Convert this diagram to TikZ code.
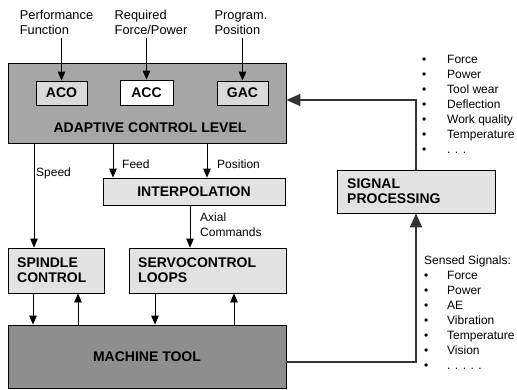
\documentclass[tikz,border=0pt]{standalone}
\usepackage{fontspec}
\setmainfont{Liberation Sans}
\usetikzlibrary{arrows.meta,calc}
\definecolor{aclgray}{HTML}{A6A6A6}
\definecolor{mtgray}{HTML}{8E8E8E}
\definecolor{lightgray}{HTML}{E2E2E2}
\definecolor{smallgray}{HTML}{DADADA}
\begin{document}
\begin{tikzpicture}[x=1pt,y=-1pt,
  box/.style={draw=black,line width=0.8pt,inner sep=0pt},
  lbox/.style={box,fill=lightgray,font=\fontsize{14}{15}\selectfont\bfseries,align=left},
  sbox/.style={box,fill=smallgray,minimum width=51pt,minimum height=24pt,font=\fontsize{14}{15}\selectfont\bfseries},
  lbl/.style={inner sep=0pt,font=\fontsize{12}{15}\selectfont,align=left},
  toplbl/.style={inner sep=0pt,font=\fontsize{12.8}{15}\selectfont,align=left},
  arr/.style={line width=0.8pt,-{Triangle[length=9pt,width=7.5pt]}},
  fb/.style={line width=2pt,draw=black!80,-{Triangle[length=14pt,width=12pt]}}
]
\useasboundingbox (0,0) rectangle (517,389);
% main boxes
\node[box,fill=aclgray,minimum width=278pt,minimum height=80pt] (acl) at (147,103) {};
\node[inner sep=0pt,font=\fontsize{14}{15}\selectfont\bfseries] (acltext) at (150,128) {ADAPTIVE CONTROL LEVEL};
\node[sbox] (aco) at (61.5,93) {ACO};
\node[sbox,fill=white,minimum width=53pt,minimum height=25pt] (acc) at (146.5,92.5) {ACC};
\node[sbox] (gac) at (242.5,93) {GAC};
\node[lbox,minimum width=182pt,minimum height=27pt] (interp) at (194,191.5) {};
\node[inner sep=0pt,font=\fontsize{14}{15}\selectfont\bfseries] (interptext) at (194,191.5) {INTERPOLATION};
\node[lbox,minimum width=96pt,minimum height=45pt] (spin) at (56,270.5) {};
\node[inner sep=0pt,anchor=west,font=\fontsize{14}{15}\selectfont\bfseries,align=left] (spintext) at (17,270.5) {SPINDLE\\CONTROL};
\node[lbox,minimum width=157pt,minimum height=45pt] (servo) at (207.5,270.5) {};
\node[inner sep=0pt,anchor=west,font=\fontsize{14}{15}\selectfont\bfseries,align=left] (servotext) at (138,270.5) {SERVOCONTROL\\LOOPS};
\node[box,fill=mtgray,minimum width=278pt,minimum height=63pt] (mt) at (147,356.5) {};
\node[inner sep=0pt,font=\fontsize{14}{15}\selectfont\bfseries] (mttext) at (147,357) {MACHINE TOOL};
\node[lbox,minimum width=158pt,minimum height=43pt] (sig) at (416,191.5) {};
\node[inner sep=0pt,anchor=west,font=\fontsize{14}{15}\selectfont\bfseries,align=left] (sigtext) at (347,191.5) {SIGNAL\\PROCESSING};
% top labels
\node[toplbl] (perf) at (56.5,22.5) {Performance\\Function};
\node[toplbl] (req) at (151,22.5) {Required\\Force/Power};
\node[toplbl] (prog) at (241,22.5) {Program.\\Position};
\draw[arr] (aco.north |- perf.south) ++(0,3) -- (aco.north);
\draw[arr] (acc.north |- req.south) ++(0,3) -- (acc.north);
\draw[arr] (gac.north |- prog.south) ++(0,3) -- (gac.north);
% coordinates for vertical connectors
\coordinate (speedx) at (34,0);
\coordinate (feedx) at (113,0);
\coordinate (posx) at (207,0);
\coordinate (axx) at (190,0);
\coordinate (sdown) at (33,0);
\coordinate (sup) at (78,0);
\coordinate (vdown) at (155,0);
\coordinate (vup) at (234,0);
\coordinate (fbin) at (0,100);
\draw[arr] (acl.south -| speedx) -- (spin.north -| speedx);
\draw[arr] (acl.south -| feedx) -- (interp.north -| feedx);
\draw[arr] (acl.south -| posx) -- (interp.north -| posx);
\draw[arr] (interp.south -| axx) -- (servo.north -| axx);
\draw[arr] (spin.south -| sdown) -- (mt.north -| sdown);
\draw[arr] (mt.north -| sup) -- (spin.south -| sup);
\draw[arr] (servo.south -| vdown) -- (mt.north -| vdown);
\draw[arr] (mt.north -| vup) -- (servo.south -| vup);
\node[lbl,anchor=west] (speedl) at (36,173) {Speed};
\node[lbl,anchor=west] (feedl) at (122,164) {Feed};
\node[lbl,anchor=west] (posl) at (217,164) {Position};
\node[lbl,anchor=west] (axl) at (200,225) {Axial\\Commands};
% feedback
\draw[fb] (sig.north) |- (acl.east |- fbin);
\draw[fb] ($(mt.east)+(0,5)$) -| (sig.south);
% lists
\node[lbl,anchor=north west,font=\fontsize{12}{15}\selectfont] (list1) at (422,55.5) {%
\makebox[25pt][l]{\textbullet}Force\\
\makebox[25pt][l]{\textbullet}Power\\
\makebox[25pt][l]{\textbullet}Tool wear\\
\makebox[25pt][l]{\textbullet}Deflection\\
\makebox[25pt][l]{\textbullet}Work quality\\
\makebox[25pt][l]{\textbullet}Temperature\\
\makebox[25pt][l]{\textbullet}. . .};
\node[lbl,anchor=north west,font=\fontsize{12}{14.9}\selectfont] (list2) at (424,256) {%
Sensed Signals:\\
\makebox[23pt][l]{\textbullet}Force\\
\makebox[23pt][l]{\textbullet}Power\\
\makebox[23pt][l]{\textbullet}AE\\
\makebox[23pt][l]{\textbullet}Vibration\\
\makebox[23pt][l]{\textbullet}Temperature\\
\makebox[23pt][l]{\textbullet}Vision\\
\makebox[23pt][l]{\textbullet}. . . . .};
\end{tikzpicture}
\end{document}
